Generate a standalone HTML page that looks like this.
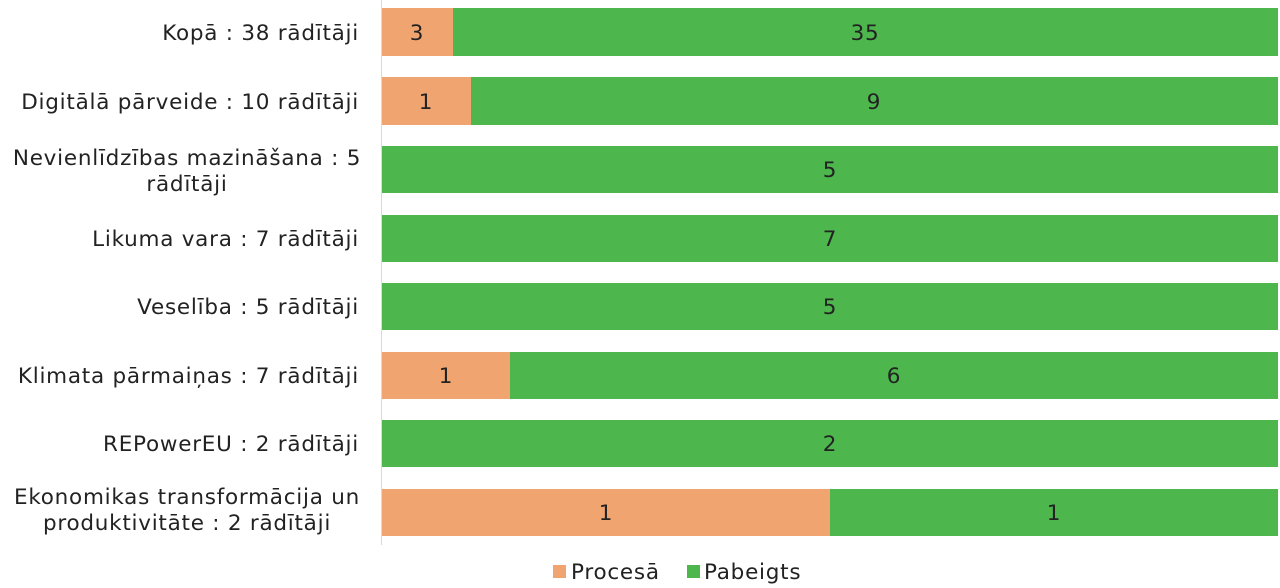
<!DOCTYPE html>
<html><head><meta charset="utf-8"><style>
html,body{margin:0;padding:0;background:#fff;}
svg{display:block;font-family:"DejaVu Sans","Liberation Sans",sans-serif;}
</style></head><body>
<svg width="1280" height="588" viewBox="0 0 1280 588">
<rect width="1280" height="588" fill="#fff"/>
<line x1="381.5" y1="0" x2="381.5" y2="545" stroke="#d9d9d9" stroke-width="1"/>
<g font-size="21.5" letter-spacing="0.75" fill="#222">
<rect x="382" y="8" width="71" height="48" fill="#F0A570"/>
<rect x="453" y="8" width="825" height="48" fill="#4DB74E"/>
<text x="417" y="40" text-anchor="middle">3</text>
<text x="865" y="40" text-anchor="middle">35</text>

<rect x="382" y="77" width="89" height="48" fill="#F0A570"/>
<rect x="471" y="77" width="807" height="48" fill="#4DB74E"/>
<text x="426" y="109" text-anchor="middle">1</text>
<text x="874" y="109" text-anchor="middle">9</text>

<rect x="382" y="146" width="896" height="47" fill="#4DB74E"/>
<text x="830" y="177" text-anchor="middle">5</text>

<rect x="382" y="215" width="896" height="47" fill="#4DB74E"/>
<text x="830" y="246" text-anchor="middle">7</text>

<rect x="382" y="283" width="896" height="47" fill="#4DB74E"/>
<text x="830" y="314" text-anchor="middle">5</text>

<rect x="382" y="352" width="128" height="47" fill="#F0A570"/>
<rect x="510" y="352" width="768" height="47" fill="#4DB74E"/>
<text x="446" y="383" text-anchor="middle">1</text>
<text x="894" y="383" text-anchor="middle">6</text>

<rect x="382" y="420" width="896" height="47" fill="#4DB74E"/>
<text x="830" y="451" text-anchor="middle">2</text>

<rect x="382" y="489" width="448" height="47" fill="#F0A570"/>
<rect x="830" y="489" width="448" height="47" fill="#4DB74E"/>
<text x="606" y="520" text-anchor="middle">1</text>
<text x="1054" y="520" text-anchor="middle">1</text>

<g text-anchor="end">
<text x="359" y="40">Kopā : 38 rādītāji</text>
<text x="359" y="109">Digitālā pārveide : 10 rādītāji</text>
<text x="359" y="246">Likuma vara : 7 rādītāji</text>
<text x="359" y="314">Veselība : 5 rādītāji</text>
<text x="359" y="383">Klimata pārmaiņas : 7 rādītāji</text>
<text x="359" y="451">REPowerEU : 2 rādītāji</text>
</g>
<g text-anchor="middle">
<text x="187" y="165">Nevienlīdzības mazināšana : 5</text>
<text x="187" y="191">rādītāji</text>
<text x="187" y="504">Ekonomikas transformācija un</text>
<text x="187" y="530">produktivitāte : 2 rādītāji</text>
</g>

<rect x="553" y="565" width="13" height="13" fill="#F0A570"/>
<text x="571" y="579">Procesā</text>
<rect x="687" y="565" width="13" height="13" fill="#4DB74E"/>
<text x="704" y="579">Pabeigts</text>
</g>
</svg>
</body></html>
